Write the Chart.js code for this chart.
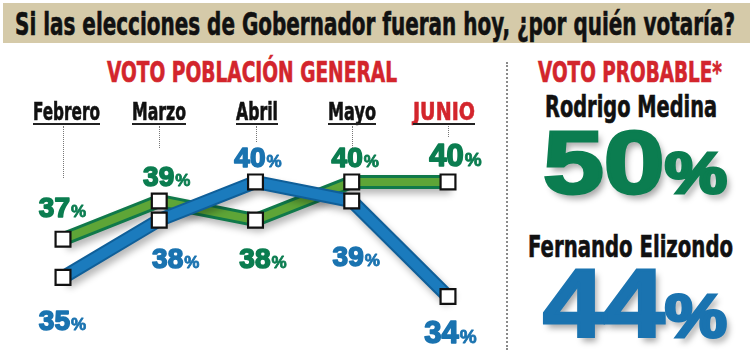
<!DOCTYPE html>
<html>
<head>
<meta charset="utf-8">
<script src="https://cdn.jsdelivr.net/npm/chart.js@4.4.1/dist/chart.umd.min.js"></script>
<style>
html, body { margin:0; padding:0; background:#fff; }
#page { position:relative; width:750px; height:363px; overflow:hidden; background:#fff;
  font-family:"Liberation Sans Narrow","DejaVu Sans Condensed","Liberation Sans",sans-serif; font-weight:bold; }
#bar { position:absolute; left:3px; top:3px; width:747px; height:40px; background:#d5caa9; }
.t { position:absolute; left:0; top:0; white-space:nowrap; line-height:1; transform-origin:0 0; -webkit-text-stroke:0.6px currentColor; }
.red { color:#d3252c; }
#sep { position:absolute; left:506px; top:62px; height:288px; border-left:2px dotted #8a8a8a; }
#chart { position:absolute; left:0; top:0; }
.big { text-shadow: 0 0 2px #fff, 3px 5px 6px rgba(0,0,0,0.35); font-family:"Liberation Sans",Arial,sans-serif; -webkit-text-stroke:3px currentColor; }
</style>
</head>
<body>
<div id="page">
  <div id="bar"></div>
  <div class="t" id="title">Si las elecciones de Gobernador fueran hoy, ¿por quién votaría?</div>
  <div class="t red" id="sub1">VOTO POBLACIÓN GENERAL</div>
  <div class="t red" id="sub2">VOTO PROBABLE*</div>
  <div id="sep"></div>
  <canvas id="chart" width="505" height="363"></canvas>
</div>
<script>
// data
const months = ['Febrero', 'Marzo', 'Abril', 'Mayo', 'JUNIO']
const medina = [37, 39, 38, 40, 40]
const elizondo = [35, 38, 40, 39, 34]
const candidates = ['Rodrigo Medina', 'Fernando Elizondo']
const probable = [50, 44]

const greenDark = '#10794a', greenLight = '#5ea537', greenText = '#0b7d50'
const blueMain = '#1b7bbd', blueDark = '#0f5f99', blueText = '#1a73b0'

// puts a text so that it fills x0..x1 with its baseline on "base"
function place(el, x0, x1, base, cap) {
    el.style.fontSize = (cap / 0.72) + 'px'
    el.style.transform = 'none'
    const mark = document.createElement('i')
    mark.style.cssText = 'display:inline-block;width:0;height:0;'
    el.appendChild(mark)
    const r = el.getBoundingClientRect()
    const b = mark.getBoundingClientRect().top - r.top
    el.style.transform = `scaleX(${(x1 - x0) / r.width})`
    el.style.left = x0 + 'px'
    el.style.top = (base - b) + 'px'
}

function addText(txt, cls, html) {
    const d = document.createElement('div')
    d.className = 't ' + (cls || '')
    if (html) d.innerHTML = txt; else d.textContent = txt
    document.getElementById('page').appendChild(d)
    return d
}

function addBox(css) {
    const d = document.createElement('div')
    d.style.cssText = 'position:absolute;' + css
    document.getElementById('page').appendChild(d)
    return d
}

document.getElementById('title').style.color = '#111'
place(document.getElementById('title'), 15, 735, 35, 23)
place(document.getElementById('sub1'), 107, 397, 82, 20)
place(document.getElementById('sub2'), 538, 722, 82, 20)

// right side: voto probable
const nameBoxes = [[545, 717, 117, 22], [528, 733, 257, 22]]
const numBoxes = [[543, 727, 193, 64], [543, 727, 337, 69]]
const numColors = [greenText, blueText]
candidates.forEach((c, i) => {
    const n = addText(c, '')
    n.style.color = '#111'
    place(n, ...nameBoxes[i])
    const v = addText(probable[i] + '<span style="font-size:0.64em">%</span>', 'big', true)
    v.style.color = numColors[i]
    place(v, ...numBoxes[i])
})

// label offsets from the marker (centre x, baseline y)
const medinaOff = [[-1, -22], [7, -15], [7, 48], [3, -15], [7, -16]]
const elizondoOff = [[-1, 53], [16, 48], [2, -15], [4, 65], [2, 47]]

const shadowPlugin = {
    id: 'shadow',
    beforeDatasetDraw(chart, args) {
        const ds = chart.data.datasets[args.index]
        if (ds.shadow) {
            chart.ctx.save()
            chart.ctx.shadowColor = 'rgba(0,0,0,0.28)'
            chart.ctx.shadowBlur = 7
            chart.ctx.shadowOffsetX = 3
            chart.ctx.shadowOffsetY = 5
        }
    },
    afterDatasetDraw(chart, args) {
        const ds = chart.data.datasets[args.index]
        if (ds.shadow) chart.ctx.restore()
    }
}

const labelPlugin = {
    id: 'pctLabels',
    afterDraw(chart) {
        const ctx = chart.ctx
        const sets = [[0, medina, medinaOff, greenText], [1, elizondo, elizondoOff, blueText]]
        sets.forEach(([idx, vals, offs, col]) => {
            const meta = chart.getDatasetMeta(idx)
            meta.data.forEach((pt, i) => {
                const big = i === vals.length - 1 ? 31 : 28
                const small = Math.round(big * 0.6)
                const numFont = `bold ${big}px "Liberation Sans", Arial, sans-serif`
                const pctFont = `bold ${small}px "Liberation Sans", Arial, sans-serif`
                ctx.save()
                ctx.font = numFont
                const w1 = ctx.measureText(String(vals[i])).width
                ctx.font = pctFont
                const w2 = ctx.measureText('%').width
                const x = pt.x + offs[i][0] - (w1 + w2) / 2
                const y = pt.y + offs[i][1]
                ctx.fillStyle = col
                ctx.strokeStyle = col
                ctx.lineJoin = 'round'
                ctx.textBaseline = 'alphabetic'
                ctx.textAlign = 'left'
                ctx.font = numFont
                ctx.lineWidth = 1.6
                ctx.fillText(String(vals[i]), x, y)
                ctx.strokeText(String(vals[i]), x, y)
                ctx.font = pctFont
                ctx.lineWidth = 0.8
                ctx.fillText('%', x + w1 + 1, y)
                ctx.strokeText('%', x + w1 + 1, y)
                ctx.restore()
            })
        })
    }
}

const lineBase = { tension: 0, pointRadius: 0, borderJoinStyle: 'miter', borderCapStyle: 'butt', clip: false, fill: false }
const markBase = { showLine: false, pointStyle: 'rect', pointRadius: 10.5, pointHoverRadius: 10.5,
    pointBorderWidth: 2.2, pointBorderColor: '#111', pointBackgroundColor: '#fff', clip: false }

const chart = new Chart(document.getElementById('chart'), {
    type: 'line',
    data: {
        labels: months,
        datasets: [
            { ...markBase, label: 'Rodrigo Medina', data: medina },
            { ...markBase, label: 'Fernando Elizondo', data: elizondo },
            { ...lineBase, data: elizondo, borderColor: blueMain, borderWidth: 10 },
            { ...lineBase, data: elizondo, borderColor: blueDark, borderWidth: 14, shadow: true },
            { ...lineBase, data: medina, borderColor: greenLight, borderWidth: 8 },
            { ...lineBase, data: medina, borderColor: greenDark, borderWidth: 14, shadow: true }
        ]
    },
    options: {
        responsive: false,
        animation: false,
        events: [],
        layout: { padding: { left: 63, right: 57, top: 130, bottom: 8 } },
        plugins: { legend: { display: false }, tooltip: { enabled: false } },
        scales: {
            x: { display: false, offset: false },
            y: { display: false, min: 31.18, max: 42.72 }
        }
    },
    plugins: [shadowPlugin, labelPlugin]
})

// month headers over each point, with underline and dotted leader
const monthW = [67, 54, 42, 48, 62]
const monthDx = [3, 0, 1, 0, -4]
const leader = [52, 22, 16, 22, 11]
months.forEach((m, i) => {
    const x = chart.scales.x.getPixelForValue(i)
    const cx = x + monthDx[i]
    const el = addText(m, i === months.length - 1 ? 'red' : '')
    if (i !== months.length - 1) el.style.color = '#111'
    place(el, cx - monthW[i] / 2, cx + monthW[i] / 2, 120, 18)
    addBox(`left:${cx - monthW[i] / 2}px;top:123px;width:${monthW[i]}px;height:2px;background:#222;`)
    addBox(`left:${Math.round(x)}px;top:126px;height:${leader[i]}px;border-left:1px dotted #777;`)
})
</script>
</body>
</html>
